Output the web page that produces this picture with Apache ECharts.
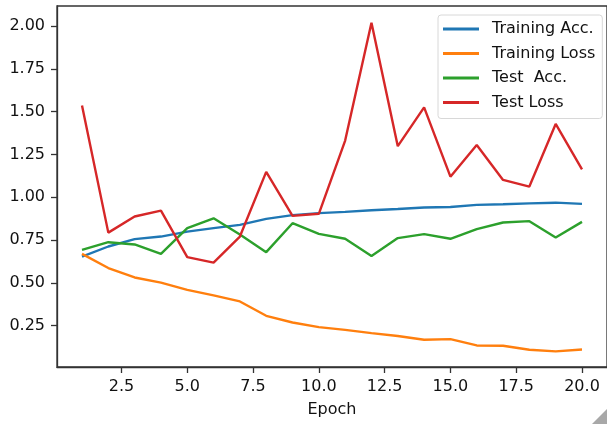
<!DOCTYPE html>
<html>
<head>
<meta charset="utf-8">
<script src="https://cdn.jsdelivr.net/npm/echarts@6/dist/echarts.min.js"></script>
<style>
html,body{margin:0;padding:0;background:#fff;}
#chart{width:607px;height:424px;}
</style>
</head>
<body>
<div id="chart"></div>
<script>
const epochs = [1,2,3,4,5,6,7,8,9,10,11,12,13,14,15,16,17,18,19,20];
const trainingAcc = [0.653,0.712,0.755,0.770,0.799,0.819,0.838,0.873,0.895,0.907,0.914,0.924,0.931,0.940,0.943,0.955,0.959,0.964,0.968,0.961];
const trainingLoss = [0.669,0.586,0.531,0.501,0.459,0.426,0.391,0.307,0.268,0.241,0.225,0.206,0.189,0.167,0.171,0.134,0.132,0.109,0.099,0.110];
const testAcc = [0.692,0.737,0.724,0.669,0.819,0.877,0.782,0.679,0.848,0.786,0.757,0.657,0.761,0.784,0.757,0.813,0.852,0.860,0.764,0.856];
const testLoss = [1.536,0.793,0.887,0.922,0.650,0.618,0.770,1.148,0.891,0.903,1.331,2.019,1.298,1.525,1.120,1.305,1.101,1.062,1.428,1.163];
const seriesNames = ['Training Acc.','Training Loss','Test  Acc.','Test Loss'];
const seriesColors = ['#1f77b4','#ff7f0e','#2ca02c','#d62728'];
const xTicks = [2.5,5,7.5,10,12.5,15,17.5,20];
const yTicks = [0.25,0.5,0.75,1.0,1.25,1.5,1.75,2.0];
const xLabel = 'Epoch';

const allSeries = [trainingAcc, trainingLoss, testAcc, testLoss];
const FONT = 'DejaVu Sans';
const chart = echarts.init(document.getElementById('chart'), null, {renderer:'canvas'});
chart.setOption({
  animation:false,
  backgroundColor:'#fff',
  grid:{left:57, top:6, width:557, height:361, show:true, borderColor:'#333', borderWidth:1.3, backgroundColor:'transparent'},
  xAxis:{
    type:'value', min:0.05, max:20.95,
    name:xLabel, nameLocation:'middle', nameGap:35,
    nameTextStyle:{fontFamily:FONT, fontSize:16, color:'#111'},
    splitLine:{show:false},
    axisLine:{show:true, lineStyle:{color:'#333', width:1.3}},
    axisTick:{show:true, length:6, inside:false, customValues:xTicks, lineStyle:{color:'#333', width:1.3}},
    axisLabel:{customValues:xTicks, margin:12, fontFamily:FONT, fontSize:16, color:'#111', formatter:v=>v.toFixed(1)}
  },
  yAxis:{
    type:'value', min:0.008, max:2.117,
    splitLine:{show:false},
    axisLine:{show:true, lineStyle:{color:'#333', width:1.3}},
    axisTick:{show:true, length:6, inside:false, customValues:yTicks, lineStyle:{color:'#333', width:1.3}},
    axisLabel:{customValues:yTicks, margin:12, fontFamily:FONT, fontSize:16, color:'#111', formatter:v=>v.toFixed(2)}
  },
  legend:{
    left:438, top:15, orient:'vertical',
    padding:[6,7,8,5], itemGap:8.5, itemWidth:36, itemHeight:3,
    icon:'rect',
    backgroundColor:'rgba(255,255,255,0.8)', borderColor:'#d8d8d8', borderWidth:1, borderRadius:3,
    textStyle:{fontFamily:FONT, fontSize:16, color:'#111', padding:[0,0,0,8], lineHeight:16, height:16},
    data:seriesNames
  },
  series: allSeries.map((vals,i)=>({
    name:seriesNames[i], type:'line', symbol:'none', showSymbol:false,
    color:seriesColors[i],
    lineStyle:{color:seriesColors[i], width:2.4},
    data: epochs.map((e,j)=>[e, vals[j]])
  })),
  graphic:[{type:'polygon', shape:{points:[[607,409],[607,424],[592,424]]}, style:{fill:'#a8a8a8'}, z:100}]
});
</script>
</body>
</html>
